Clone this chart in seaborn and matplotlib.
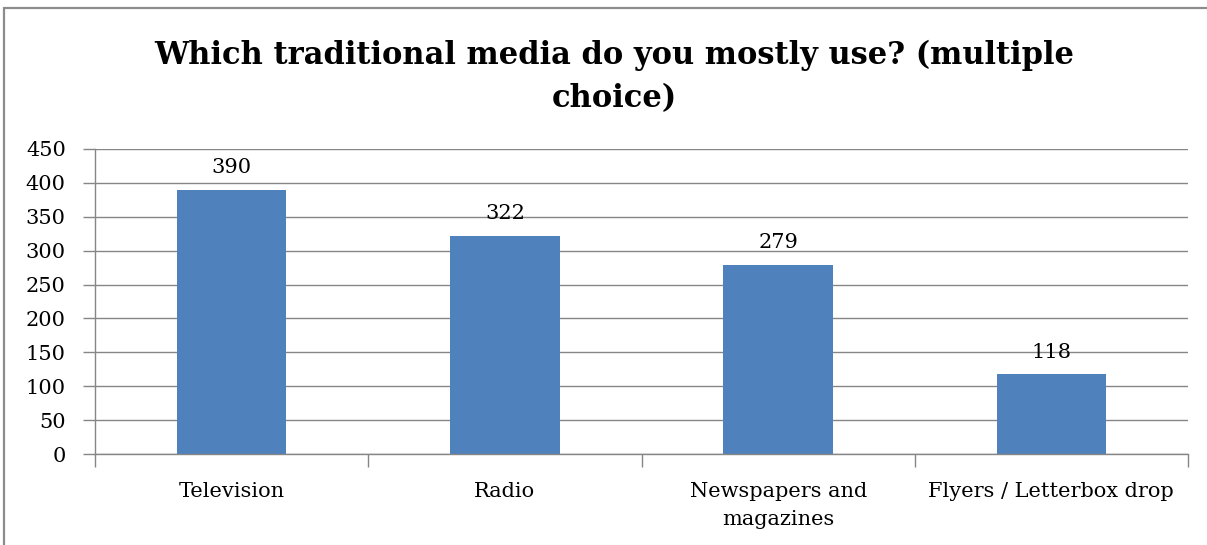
import matplotlib
matplotlib.use("Agg")
import matplotlib.pyplot as plt
from matplotlib.patches import Rectangle
import seaborn as sns
import pandas as pd

categories = ["Television", "Radio", "Newspapers and\nmagazines", "Flyers / Letterbox drop"]
counts = [390, 322, 279, 118]
y_ticks = [0, 50, 100, 150, 200, 250, 300, 350, 400, 450]
title = "Which traditional media do you mostly use? (multiple\nchoice)"

grid_c = "#868686"
sns.set_theme(style="white")
plt.rcParams.update({
    "font.family": ["DejaVu Serif"],
    "text.color": "black",
    "xtick.color": grid_c,
    "ytick.color": grid_c,
    "xtick.labelcolor": "black",
    "ytick.labelcolor": "black",
    "ytick.left": True,
    "xtick.bottom": True,
    "ytick.major.size": 9,
    "ytick.major.width": 1,
    "ytick.direction": "out",
})

W, H = 1207, 545
fig = plt.figure(figsize=(W / 100, H / 100), dpi=100)
fig.patch.set_facecolor("white")

# chart frame
fig.add_artist(Rectangle((4 / W, -0.05), 1.2, (H - 8) / H + 0.05,
                         transform=fig.transFigure, fill=False,
                         edgecolor="#8c8c8c", linewidth=1.6))

ax = fig.add_axes([95 / W, (H - 454) / H, (1188 - 95) / W, (454 - 149) / H])
df = pd.DataFrame({"media": categories, "count": counts})
sns.barplot(data=df, x="media", y="count", color="#4F81BD", saturation=1,
            width=0.4, linewidth=0, ax=ax, zorder=3)

ax.set_xlim(-0.5, len(categories) - 0.5)
ax.set_ylim(0, 450)
ax.set_yticks(y_ticks)
ax.set_yticklabels([str(v) for v in y_ticks], fontsize=15)
ax.set_xlabel("")
ax.set_ylabel("")

ax.yaxis.grid(True, color=grid_c, linewidth=1, zorder=0)
ax.xaxis.grid(False)
for side in ["top", "right"]:
    ax.spines[side].set_visible(False)
for side in ["left", "bottom"]:
    ax.spines[side].set_color(grid_c)
    ax.spines[side].set_linewidth(1)
    ax.spines[side].set_zorder(4)

ax.yaxis.set_tick_params(which="major", left=True, length=9, width=1,
                         color=grid_c, labelcolor="black", direction="out",
                         pad=12)

ax.set_xticks(range(len(categories)))
ax.set_xticklabels(categories, fontsize=15, linespacing=1.6)
ax.set_xticks([i - 0.5 for i in range(len(categories) + 1)], minor=True)
ax.tick_params(axis="x", which="major", length=0, pad=20, labelcolor="black")
ax.tick_params(axis="x", which="minor", bottom=True, length=9, width=1,
               color=grid_c, direction="out")

ax.bar_label(ax.containers[0], labels=[str(v) for v in counts],
             fontsize=15, padding=9, color="black")

fig.text(614 / W, 1 - 77 / H, title, ha="center", va="center",
         fontsize=22, fontweight="bold", linespacing=1.5, color="black")

fig.savefig("out.png", dpi=100, facecolor="white")
